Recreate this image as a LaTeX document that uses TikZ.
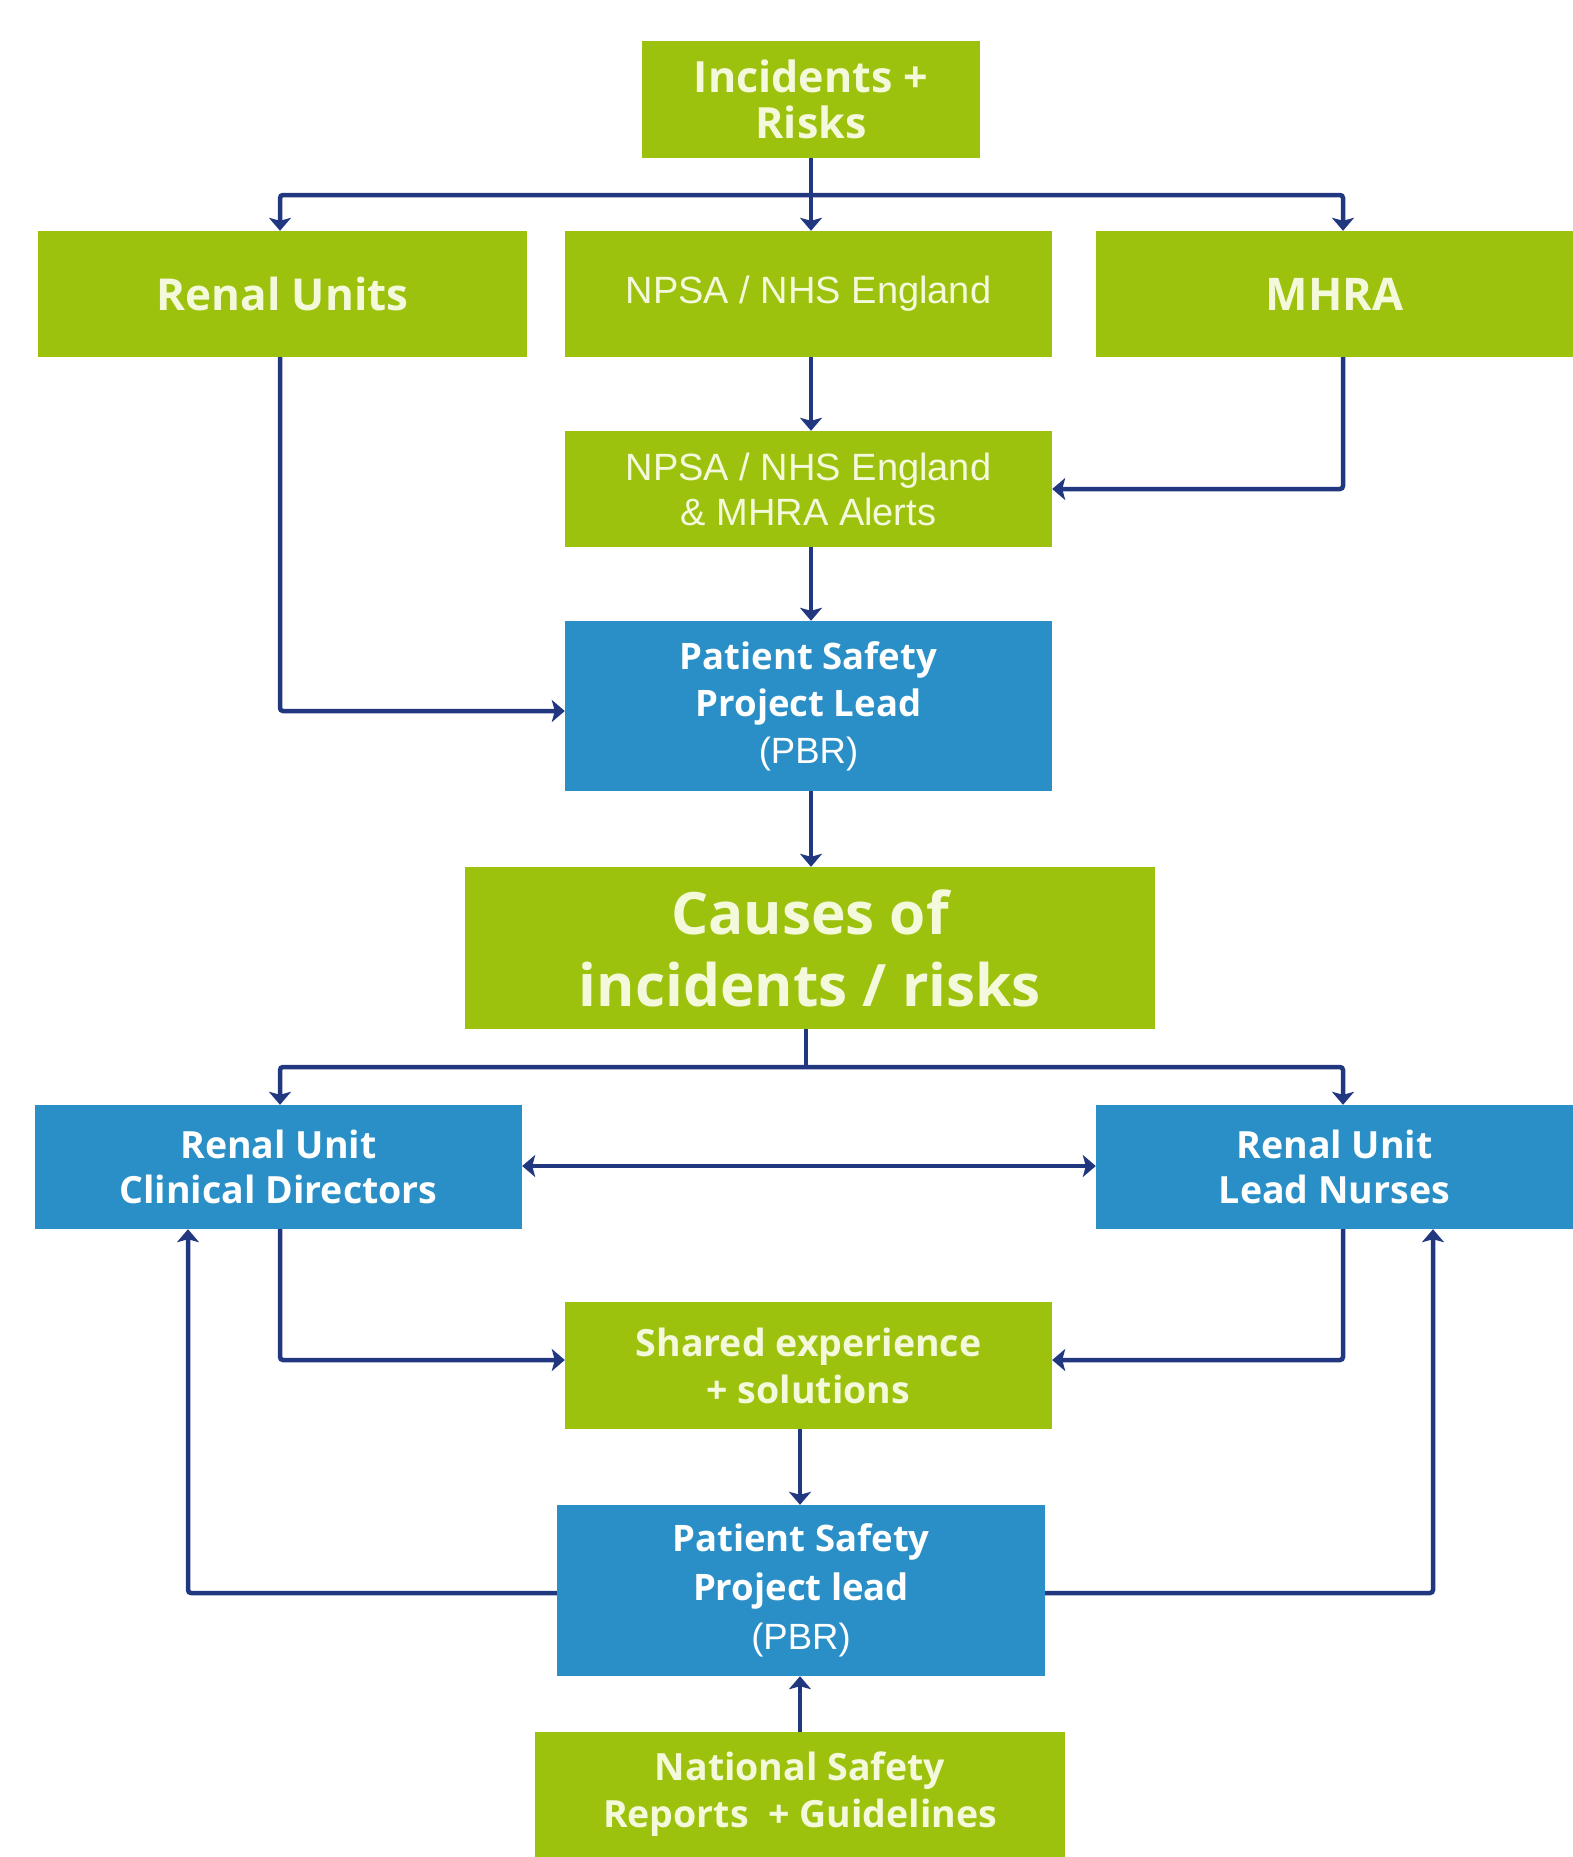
\documentclass[tikz,border=0pt]{standalone}
\usepackage{fontspec}
\setmainfont{Open Sans}
\newfontfamily\arialf{Liberation Sans}
\usetikzlibrary{arrows.meta,calc}
\definecolor{gr}{RGB}{157,194,14}
\definecolor{bl}{RGB}{41,143,198}
\definecolor{lnc}{RGB}{33,55,128}
\definecolor{tx}{RGB}{244,249,220}
\begin{document}
\begin{tikzpicture}[x=1pt,y=-1pt,
  gbox/.style={rectangle,fill=gr,text=tx,align=center,inner sep=0pt},
  bbox/.style={rectangle,fill=bl,text=white,align=center,inner sep=0pt},
  conn/.style={draw=lnc,line width=4.5pt,rounded corners=3pt},
  arr/.style={conn,-{Stealth[length=13pt,width=22pt,inset=3pt]}},
  darr/.style={conn,{Stealth[length=13pt,width=22pt,inset=3pt]}-{Stealth[length=13pt,width=22pt,inset=3pt]}}]
\useasboundingbox (0,0) rectangle (1573,1857);
\fill[white] (0,0) rectangle (1573,1857);

\node[gbox,minimum width=338pt,minimum height=117pt,font={\fontsize{43}{46}\selectfont\bfseries}] (inc) at (811,99.5) {Incidents +\\Risks};
\node[gbox,minimum width=489pt,minimum height=126pt,font={\fontsize{44}{50}\selectfont\bfseries}] (ru) at (282.5,294) {Renal Units};
\node[gbox,minimum width=487pt,minimum height=126pt,font={\fontsize{38}{45}\selectfont\arialf}] (npsa) at (808.5,294) {NPSA / NHS England};
\node[gbox,minimum width=477pt,minimum height=126pt,font={\fontsize{45}{50}\selectfont\bfseries}] (mhra) at (1334.5,294) {MHRA};
\node[gbox,minimum width=487pt,minimum height=116pt,font={\fontsize{38}{45}\selectfont\arialf}] (alerts) at (808.5,489) {NPSA / NHS England\\\& MHRA Alerts};
\node[bbox,minimum width=487pt,minimum height=170pt,font={\fontsize{36.5}{47}\selectfont\bfseries}] (ps1) at (808.5,706) {Patient Safety\\Project Lead\\{\arialf\mdseries (PBR)}};
\node[gbox,minimum width=690pt,minimum height=162pt,font={\fontsize{58.5}{72}\selectfont\bfseries}] (causes) at (810,948) {Causes of\\incidents / risks};
\node[bbox,minimum width=487pt,minimum height=124pt,font={\fontsize{37.5}{45}\selectfont\bfseries}] (cd) at (278.5,1167) {Renal Unit\\Clinical Directors};
\node[bbox,minimum width=477pt,minimum height=124pt,font={\fontsize{37.5}{45}\selectfont\bfseries}] (lnu) at (1334.5,1167) {Renal Unit\\Lead Nurses};
\node[gbox,minimum width=487pt,minimum height=127pt,font={\fontsize{37.5}{47}\selectfont\bfseries}] (shared) at (808.5,1365.5) {Shared experience\\+ solutions};
\node[bbox,minimum width=488pt,minimum height=171pt,font={\fontsize{36.5}{49}\selectfont\bfseries}] (ps2) at (801,1590.5) {Patient Safety\\Project lead\\{\arialf\mdseries (PBR)}};
\node[gbox,minimum width=530pt,minimum height=125pt,font={\fontsize{37.5}{47}\selectfont\bfseries}] (nat) at (800,1794.5) {National Safety\\Reports~ + Guidelines};

% top distribution
\coordinate (t0) at (811,195);
\coordinate (tl) at (280,195);
\coordinate (tr) at (1343,195);
\draw[conn] (inc.south) -- (t0);
\draw[arr] (t0) -- (tl) -- (ru.north -| tl);
\draw[arr] (t0) -- (npsa.north -| t0);
\draw[arr] (t0) -- (tr) -- (mhra.north -| tr);

\draw[arr] (npsa.south -| t0) -- (alerts.north -| t0);
\coordinate (m1) at (1343,489);
\draw[arr] (mhra.south -| tr) -- (m1) -- (alerts.east);
\coordinate (r1) at (280,711);
\draw[arr] (ru.south -| tl) -- (r1) -- (r1 -| ps1.west);
\draw[arr] (alerts.south -| t0) -- (ps1.north -| t0);
\draw[arr] (ps1.south -| t0) -- (causes.north -| t0);

% middle distribution
\coordinate (c0) at (806,1067);
\coordinate (cl) at (280,1067);
\coordinate (cr) at (1343,1067);
\draw[conn] (causes.south -| c0) -- (c0);
\draw[arr] (c0) -- (cl) -- (cd.north -| cl);
\draw[arr] (c0) -- (cr) -- (lnu.north -| cr);
\coordinate (d1) at (522,1166);
\draw[darr] (cd.east |- d1) -- (lnu.west |- d1);

\coordinate (s1) at (280,1360);
\coordinate (s2) at (1343,1360);
\draw[arr] (cd.south -| cl) -- (s1) -- (s1 -| shared.west);
\draw[arr] (lnu.south -| cr) -- (s2) -- (s2 -| shared.east);
\coordinate (s0) at (800,1429);
\draw[arr] (shared.south -| s0) -- (ps2.north -| s0);

\coordinate (p1) at (188,1593);
\coordinate (p2) at (1433,1593);
\draw[arr] (p1 -| ps2.west) -- (p1) -- (cd.south -| p1);
\draw[arr] (p2 -| ps2.east) -- (p2) -- (lnu.south -| p2);
\draw[arr] (nat.north -| s0) -- (ps2.south -| s0);
\end{tikzpicture}
\end{document}
